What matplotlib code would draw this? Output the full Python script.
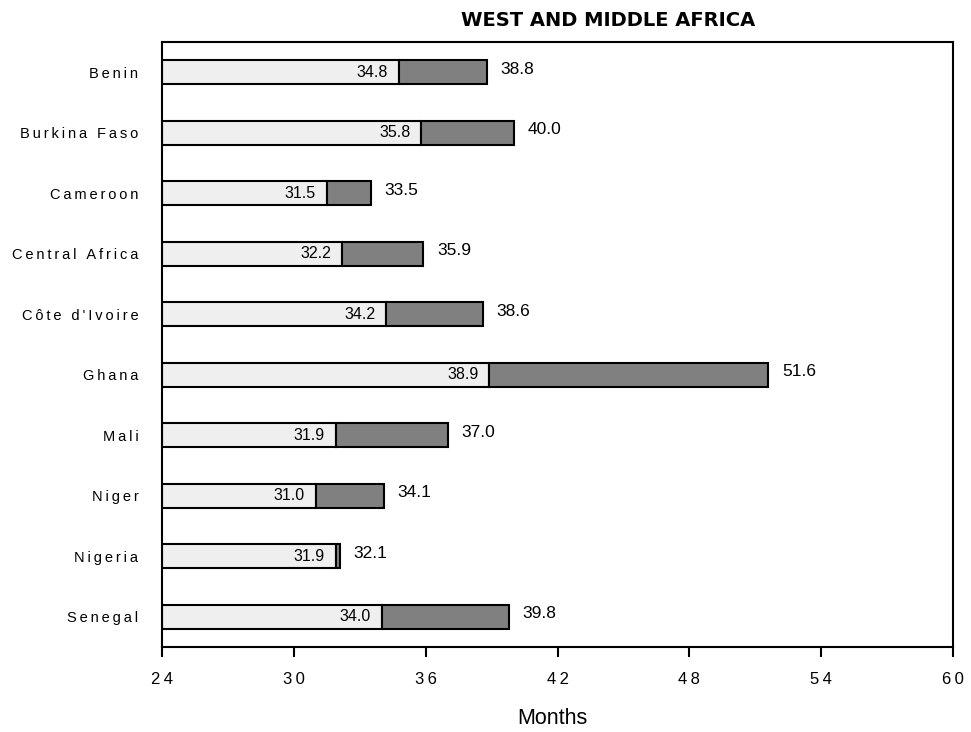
import matplotlib.pyplot as plt

plt.rcParams['font.family'] = ['Liberation Sans', 'DejaVu Sans']

countries = ["Benin", "Burkina Faso", "Cameroon", "Central Africa", "Côte d'Ivoire",
             "Ghana", "Mali", "Niger", "Nigeria", "Senegal"]
first_value = [34.8, 35.8, 31.5, 32.2, 34.2, 38.9, 31.9, 31.0, 31.9, 34.0]
second_value = [38.8, 40.0, 33.5, 35.9, 38.6, 51.6, 37.0, 34.1, 32.1, 39.8]
x_ticks = [24, 30, 36, 42, 48, 54, 60]

BASE = 24


def spaced(s):
    # mimic the letter-spaced labels of the original
    return "\u2009".join(s)


fig = plt.figure(figsize=(9.71, 7.32), dpi=100)
ax = fig.add_axes([162 / 971, 1 - 647 / 732, (953 - 162) / 971, (647 - 42) / 732])

ypos = list(range(len(countries)))
ax.barh(ypos, [v - BASE for v in first_value], left=BASE, height=0.4,
        color='#efefef', edgecolor='black', linewidth=1.5)
ax.barh(ypos, [b - a for a, b in zip(first_value, second_value)], left=first_value,
        height=0.4, color='#808080', edgecolor='black', linewidth=1.5)

for y, a, b in zip(ypos, first_value, second_value):
    ax.text(a - 0.5, y, f"{a:.1f}", ha='right', va='center', fontsize=11.5)
    ax.text(b + 0.62, y - 0.05, f"{b:.1f}", ha='left', va='center', fontsize=12.5)

ax.set_xlim(24, 60)
ax.set_ylim(9.5, -0.5)
ax.set_xticks(x_ticks)
ax.set_xticklabels([spaced(str(t)) for t in x_ticks], fontsize=12)
ax.set_yticks(ypos)
ax.set_yticklabels([spaced(c) for c in countries], fontsize=10.5)
ax.tick_params(axis='y', length=0, pad=17)
ax.tick_params(axis='x', length=7, width=1.5, direction='out', pad=11)
for sp in ax.spines.values():
    sp.set_linewidth(1.5)

fig.text(552 / 971, 1 - 718 / 732, "Months", ha='center', va='center', fontsize=15.5)
fig.text(608 / 971, 1 - 20 / 732, "WEST AND MIDDLE AFRICA", ha='center', va='center',
         fontsize=14, fontweight='bold', family='DejaVu Sans')

fig.savefig("out.png", dpi=100)
